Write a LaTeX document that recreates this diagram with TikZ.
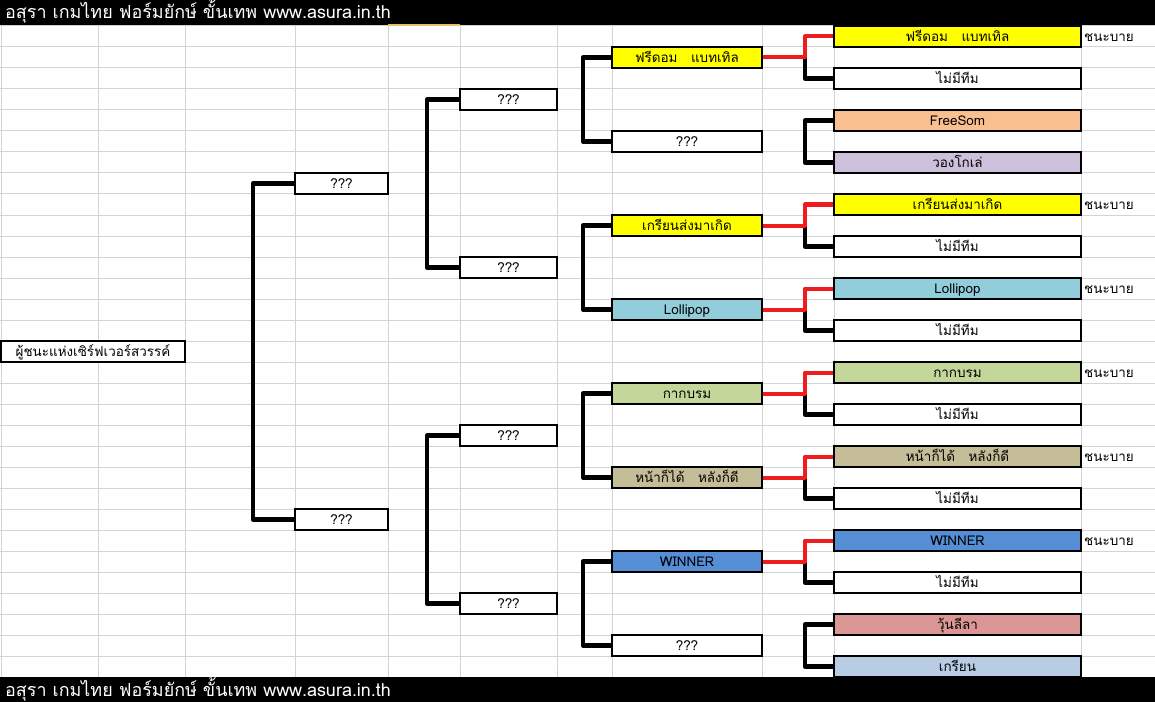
\documentclass[tikz,border=0pt]{standalone}
\usepackage{fontspec}
\setmainfont{Loma}[Script=Thai]
\definecolor{gridc}{HTML}{D4D4D4}
\definecolor{yellowc}{HTML}{FFFF00}
\definecolor{freesomc}{HTML}{FABF8F}
\definecolor{vongolec}{HTML}{CCC0DA}
\definecolor{lollipopc}{HTML}{92CDDC}
\definecolor{kakc}{HTML}{C4D79B}
\definecolor{tanc}{HTML}{C4BD97}
\definecolor{winnerc}{HTML}{558ED5}
\definecolor{woonc}{HTML}{DA9694}
\definecolor{kreanc}{HTML}{B8CCE4}
\definecolor{redc}{HTML}{EE1C1C}
\definecolor{markc}{HTML}{E8C060}
\tikzset{
  cell/.style={draw=black,line width=2bp,fill=white,inner sep=0pt,minimum height=21bp,
    text height=11bp,text depth=1bp,font=\fontsize{13.5}{15}\selectfont},
  slota/.style={cell,minimum width=247bp},
  slotb/.style={cell,minimum width=150bp},
  slotc/.style={cell,minimum width=97bp},
  slotd/.style={cell,minimum width=93bp},
  byelabel/.style={anchor=base west,inner sep=0pt,font=\fontsize{13.5}{15}\selectfont},
  gridline/.style={gridc,line width=1bp},
  bracket/.style={black,line width=4.5bp,line join=round},
  winline/.style={redc,line width=4bp,line join=round},
}
\begin{document}
\begin{tikzpicture}[x=1bp,y=-1bp]
\useasboundingbox (0,0) rectangle (1155,702);
%% sheet
\foreach \r in {0,...,31} \draw[gridline] (0,26+21*\r) -- (1155,26+21*\r);
\foreach \c in {1,98,185,295,388,460,557,612,762,834,1081} \draw[gridline] (\c,25) -- (\c,677);
\fill[black] (0,0) rectangle (1155,25);
\fill[black] (0,677) rectangle (1155,702);
\draw[markc,line width=1.5bp] (388,25) -- (460,25);
\node (title_top) at (5,19) [anchor=base west,inner sep=0pt,text=white,font=\fontsize{18}{20}\selectfont] {อสุรา เกมไทย ฟอร์มยักษ์ ขั้นเทพ www.asura.in.th};
\node (title_bot) at (5,696) [anchor=base west,inner sep=0pt,text=white,font=\fontsize{18}{20}\selectfont] {อสุรา เกมไทย ฟอร์มยักษ์ ขั้นเทพ www.asura.in.th};
%% first round
\node (r1_0) at (957.5,36.5) [slota,fill=yellowc] {ฟรีดอม\hspace{1em}แบทเทิล};
\node (r1_1) at (957.5,78.5) [slota] {ไม่มีทีม};
\node (r1_2) at (957.5,120.5) [slota,fill=freesomc] {FreeSom};
\node (r1_3) at (957.5,162.5) [slota,fill=vongolec] {วองโกเล่};
\node (r1_4) at (957.5,204.5) [slota,fill=yellowc] {เกรียนส่งมาเกิด};
\node (r1_5) at (957.5,246.5) [slota] {ไม่มีทีม};
\node (r1_6) at (957.5,288.5) [slota,fill=lollipopc] {Lollipop};
\node (r1_7) at (957.5,330.5) [slota] {ไม่มีทีม};
\node (r1_8) at (957.5,372.5) [slota,fill=kakc] {กากบรม};
\node (r1_9) at (957.5,414.5) [slota] {ไม่มีทีม};
\node (r1_10) at (957.5,456.5) [slota,fill=tanc] {หน้าก็ได้\hspace{1em}หลังก็ดี};
\node (r1_11) at (957.5,498.5) [slota] {ไม่มีทีม};
\node (r1_12) at (957.5,540.5) [slota,fill=winnerc] {WINNER};
\node (r1_13) at (957.5,582.5) [slota] {ไม่มีทีม};
\node (r1_14) at (957.5,624.5) [slota,fill=woonc] {วุ้นลีลา};
\node (r1_15) at (957.5,666.5) [slota,fill=kreanc] {เกรียน};
\node (bye_0) at (1084,41.5) [byelabel] {ชนะบาย};
\node (bye_4) at (1084,209.5) [byelabel] {ชนะบาย};
\node (bye_6) at (1084,293.5) [byelabel] {ชนะบาย};
\node (bye_8) at (1084,377.5) [byelabel] {ชนะบาย};
\node (bye_10) at (1084,461.5) [byelabel] {ชนะบาย};
\node (bye_12) at (1084,545.5) [byelabel] {ชนะบาย};
%% second round
\node (r2_0) at (687,57.5) [slotb,fill=yellowc] {ฟรีดอม\hspace{1em}แบทเทิล};
\node (r2_1) at (687,141.5) [slotb] {???};
\node (r2_2) at (687,225.5) [slotb,fill=yellowc] {เกรียนส่งมาเกิด};
\node (r2_3) at (687,309.5) [slotb,fill=lollipopc] {Lollipop};
\node (r2_4) at (687,393.5) [slotb,fill=kakc] {กากบรม};
\node (r2_5) at (687,477.5) [slotb,fill=tanc] {หน้าก็ได้\hspace{1em}หลังก็ดี};
\node (r2_6) at (687,561.5) [slotb,fill=winnerc] {WINNER};
\node (r2_7) at (687,645.5) [slotb] {???};
%% later rounds
\node (r3_0) at (508.5,99.5) [slotc] {???};
\node (r3_1) at (508.5,267.5) [slotc] {???};
\node (r3_2) at (508.5,435.5) [slotc] {???};
\node (r3_3) at (508.5,603.5) [slotc] {???};
\node (r4_0) at (341.5,183.5) [slotd] {???};
\node (r4_1) at (341.5,519.5) [slotd] {???};
\node (champ) at (93,351.5) [cell,minimum width=184bp] {ผู้ชนะแห่งเซิร์ฟเวอร์สวรรค์};
%% brackets
\coordinate (col_a) at (805,0);
\coordinate (col_b) at (583,0);
\coordinate (col_c) at (427,0);
\coordinate (col_d) at (253,0);
\foreach \w/\a/\b in {0/0/1,2/4/5,3/6/7,4/8/9,5/10/11,6/12/13} {
  \draw[bracket] (r2_\w.east -| col_a) |- (r1_\b.west);
  \draw[winline] (r2_\w.east) -- (r2_\w.east -| col_a) |- (r1_\a.west);
}
\draw[bracket] (r1_2.west) -- (r1_2.west -| col_a) |- (r1_3.west);
\draw[bracket] (r1_14.west) -- (r1_14.west -| col_a) |- (r1_15.west);
\foreach \a/\b in {0/1,2/3,4/5,6/7}
  \draw[bracket] (r2_\a.west) -- (r2_\a.west -| col_b) |- (r2_\b.west);
\draw[bracket] (r3_0.west) -- (r3_0.west -| col_c) |- (r3_1.west);
\draw[bracket] (r3_2.west) -- (r3_2.west -| col_c) |- (r3_3.west);
\draw[bracket] (r4_0.west) -- (r4_0.west -| col_d) |- (r4_1.west);
%
\end{tikzpicture}
\end{document}
